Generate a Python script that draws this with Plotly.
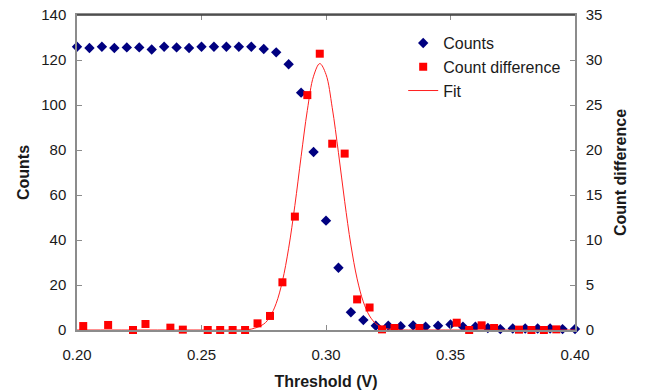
import plotly.graph_objects as go

# Counts (left axis)
threshold = [0.200, 0.205, 0.210, 0.215, 0.220, 0.225, 0.230, 0.235, 0.240, 0.245,
             0.250, 0.255, 0.260, 0.265, 0.270, 0.275, 0.280, 0.285, 0.290, 0.295,
             0.300, 0.305, 0.310, 0.315, 0.320, 0.325, 0.330, 0.335, 0.340, 0.345,
             0.350, 0.355, 0.360, 0.365, 0.370, 0.375, 0.380, 0.385, 0.390, 0.395, 0.400]
counts = [125.9, 125.3, 125.9, 125.3, 125.6, 125.6, 124.7, 125.9, 125.6, 125.3,
          125.9, 125.9, 125.9, 125.9, 125.9, 124.9, 123.4, 118.1, 105.5, 79.1,
          48.6, 27.7, 7.9, 4.4, 1.9, 1.9, 1.7, 2.0, 1.5, 1.9,
          2.5, 1.5, 1.5, 0.9, 0.4, 0.7, 0.7, 0.7, 0.7, 0.4, 0.4]

# Count difference (right axis)
diff_x = [0.2025, 0.2125, 0.2225, 0.2275, 0.2375, 0.2425, 0.2525, 0.2575, 0.2625, 0.2675,
          0.2725, 0.2775, 0.2825, 0.2875, 0.2925, 0.2975, 0.3025, 0.3075, 0.3125, 0.3175,
          0.3225, 0.3275, 0.3375, 0.3525, 0.3575, 0.3625, 0.3675, 0.3775, 0.3825, 0.3875, 0.3925]
diff_y = [0.44, 0.56, 0.0, 0.67, 0.26, 0.04, 0.0, 0.0, 0.0, 0.0,
          0.74, 1.56, 5.3, 12.6, 26.1, 30.7, 20.7, 19.6, 3.4, 2.5,
          0.07, 0.22, 0.22, 0.81, 0.0, 0.52, 0.22, 0.04, 0.0, 0.0, 0.07]

# Fit curve (right axis)
fit_x = [0.200, 0.250, 0.260, 0.265, 0.270, 0.275, 0.2775, 0.280, 0.2825, 0.285,
         0.2875, 0.290, 0.2925, 0.295, 0.2975, 0.300, 0.3025, 0.305, 0.3075, 0.310,
         0.3125, 0.315, 0.3175, 0.320, 0.3225, 0.325, 0.330, 0.340, 0.400]
fit_y = [0.0, 0.0, 0.0, 0.01, 0.10, 0.66, 1.47, 2.96, 5.43, 9.09,
         13.85, 19.26, 24.4, 28.2, 29.6, 28.4, 24.7, 19.7, 14.3, 9.44,
         5.68, 3.12, 1.56, 0.71, 0.29, 0.11, 0.01, 0.0, 0.0]

FONT = "Liberation Sans, Arial, sans-serif"
AX = "#8c8c8c"

fig = go.Figure()
fig.add_trace(go.Scatter(x=threshold, y=counts, mode="markers", name="Counts",
                         marker=dict(symbol="diamond", size=8, color="#000080"),
                         cliponaxis=False, yaxis="y", legendrank=1, legendgroup="a"))
fig.add_trace(go.Scatter(x=fit_x, y=fit_y, mode="lines", name="Fit",
                         line=dict(color="#ff2020", width=1, shape="spline"),
                         legendrank=3, legendgroup="c", yaxis="y2"))
fig.add_trace(go.Scatter(x=diff_x, y=diff_y, mode="markers", name="Count difference",
                         marker=dict(symbol="square", size=8, color="#ff0000"),
                         legendrank=2, legendgroup="b", cliponaxis=False, yaxis="y2"))

fig.update_layout(
    width=654, height=392,
    margin=dict(l=77, r=79, t=15, b=62),
    paper_bgcolor="white", plot_bgcolor="white",
    font=dict(family=FONT, size=15, color="#1a1a1a"),
    showlegend=True,
    legend=dict(x=0.655, y=0.965, xanchor="left", yanchor="top",
                bgcolor="rgba(0,0,0,0)", font=dict(size=16, family=FONT),
                tracegroupgap=0, itemwidth=30),
    xaxis=dict(range=[0.2, 0.4], dtick=0.05, tick0=0.2, tickformat=".2f",
               showline=True, linecolor=AX, linewidth=1.5, mirror="ticks",
               ticks="inside", ticklen=5, tickcolor=AX, showgrid=False, zeroline=False,
               automargin=False,
               title=dict(text="<b>Threshold (V)</b>", standoff=14, font=dict(size=16)),
               ticklabelstandoff=10),
    yaxis=dict(range=[0, 140], dtick=20, showline=True, linecolor=AX, linewidth=1.5,
               ticks="inside", ticklen=5, tickcolor=AX, showgrid=False, zeroline=False,
               automargin=False,
               title=dict(text="<b>Counts</b>", standoff=8, font=dict(size=16)),
               ticklabelstandoff=6),
    yaxis2=dict(range=[0, 35], dtick=5, overlaying="y", side="right",
                showline=True, linecolor=AX, linewidth=1.5,
                ticks="inside", ticklen=5, tickcolor=AX, showgrid=False, zeroline=False,
                automargin=False,
                title=dict(text="<b>Count difference</b>", standoff=13, font=dict(size=16)),
                ticklabelstandoff=6),
)
fig.add_shape(type="line", xref="paper", yref="paper", x0=0, x1=1, y0=1, y1=1,
              line=dict(color="#3a3a3a", width=1.5))

fig.write_html("out.html", config={"displayModeBar": False},
               post_script="document.body.style.margin='0';document.body.style.overflow='hidden';")
